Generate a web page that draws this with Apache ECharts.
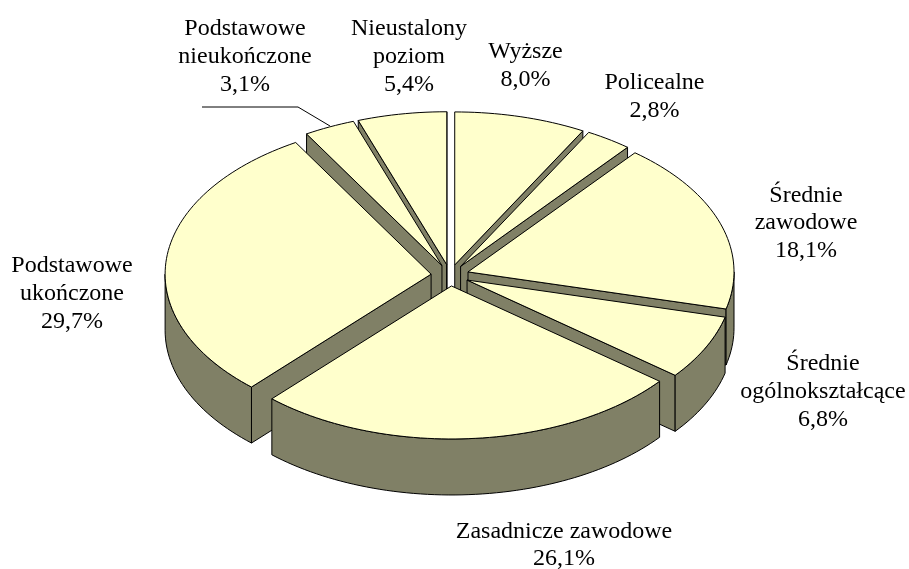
<!DOCTYPE html>
<html><head><meta charset="utf-8">
<style>html,body{margin:0;padding:0;background:#fff}#c{width:909px;height:569px}</style>
<script src="https://cdn.jsdelivr.net/npm/echarts@6/dist/echarts.min.js"></script>
</head><body><div id="c"></div>
<script>
const categories = ["Wyższe","Policealne","Średnie\nzawodowe","Średnie\nogólnokształcące","Zasadnicze zawodowe","Podstawowe\nukończone","Podstawowe\nnieukończone","Nieustalony\npoziom"];
const values = [8.0,2.8,18.1,6.8,26.1,29.7,3.1,5.4];
const labelCenters = [[525.5,38],[654.5,69],[806,181.5],[823,350],[564,517.5],[72,252],[245,15],[409,15]];

const CX=450, CY=275.3, A=266, B=153, EX=19, EY=10.7, DEPTH=56;
const TOP='#FFFFCC', SIDE='#808066', INK='#000000';
const FONT_SIZE=24, LINE_H=27.8;
const total = values.reduce((s,v)=>s+v,0);
const rad = Math.PI/180;
const starts=[]; values.reduce((acc,v,i)=>{starts[i]=acc; return acc+v/total*360;},0);

function arcPts(ox,oy,a0,a1,dy){
  const n=Math.max(2,Math.ceil((a1-a0)/1.5)), pts=[];
  for(let k=0;k<=n;k++){const t=(a0+(a1-a0)*k/n)*rad; pts.push([ox+A*Math.sin(t), oy-B*Math.cos(t)+dy]);}
  return pts;
}
function renderItem(params,api){
  const i=params.dataIndex, v=api.value(0);
  const a0=starts[i], a1=a0+v/total*360, mid=(a0+a1)/2;
  const ox=CX+EX*Math.sin(mid*rad), oy=CY-EY*Math.cos(mid*rad);
  const base=Math.round((1-Math.cos(mid*rad))*100)*10+10;
  const st={stroke:INK,lineWidth:1,lineJoin:'round'};
  const kids=[];
  const wall=(pts,z)=>kids.push({type:'polygon',z2:base+z,shape:{points:pts},style:{fill:SIDE,...st}});
  const radial=(ang)=>{
    const p=arcPts(ox,oy,ang,ang,0)[0];
    wall([[ox,oy],p,[p[0],p[1]+DEPTH],[ox,oy+DEPTH]],1);
  };
  if(Math.sin(a0*rad)<0) radial(a0);
  if(Math.sin(a1*rad)>0) radial(a1);
  const f0=Math.max(a0,90), f1=Math.min(a1,270);
  if(f1>f0){
    const t=arcPts(ox,oy,f0,f1,0), b=arcPts(ox,oy,f0,f1,DEPTH).reverse();
    wall(t.concat(b),2);
  }
  kids.push({type:'polygon',z2:base+3,shape:{points:[[ox,oy]].concat(arcPts(ox,oy,a0,a1,0))},style:{fill:TOP,...st}});
  kids.push({type:'text',z2:5000,style:{
    text:categories[i]+"\n"+v.toFixed(1).replace('.',',')+"%",
    x:labelCenters[i][0],y:labelCenters[i][1],align:'center',verticalAlign:'top',
    fontFamily:'"Liberation Serif"',fontSize:FONT_SIZE,lineHeight:LINE_H,fill:INK}});
  if(i===6){
    kids.push({type:'polyline',z2:5000,shape:{points:[[202,107],[298,107],[330,126]]},style:{fill:null,stroke:INK,lineWidth:1}});
  }
  return {type:'group',children:kids};
}
const chart=echarts.init(document.getElementById('c'),null,{renderer:'canvas'});
chart.setOption({
  animation:false,
  backgroundColor:'#ffffff',
  series:[{type:'custom',coordinateSystem:'none',silent:true,renderItem,
    data:values.map((v,i)=>({value:[v],name:categories[i]}))}]
});
</script></body></html>
